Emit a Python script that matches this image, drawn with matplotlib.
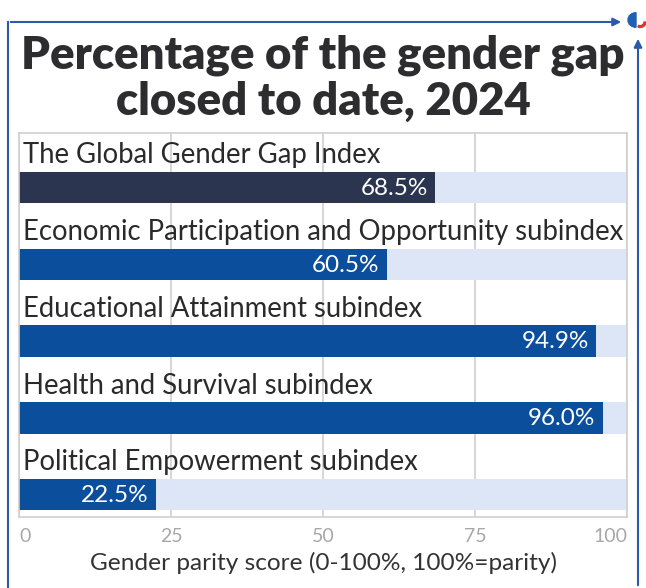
import matplotlib.pyplot as plt
from matplotlib.patches import FancyArrowPatch, Wedge

categories = [
    "The Global Gender Gap Index",
    "Economic Participation and Opportunity subindex",
    "Educational Attainment subindex",
    "Health and Survival subindex",
    "Political Empowerment subindex",
]
scores = [68.5, 60.5, 94.9, 96.0, 22.5]
value_labels = ["68.5%", "60.5%", "94.9%", "96.0%", "22.5%"]
bar_colors = ["#2c3550", "#0b4f9c", "#0b4f9c", "#0b4f9c", "#0b4f9c"]
x_ticks = [0, 25, 50, 75, 100]

FONT = "Lato"
frame_col = "#2b5ba8"

fig = plt.figure(figsize=(6.46, 5.88), dpi=100)
W, H = 646, 588

def fx(px):
    return px / W

def fy(py):
    return 1 - py / H

# title
for y, line in [(55, "Percentage of the gender gap"), (101, "closed to date, 2024")]:
    fig.text(0.5, fy(y), line, ha="center", va="center",
             fontsize=32.8, fontweight="heavy", family=FONT, color="#2d2d2f")

# outer frame lines with arrows
fig.add_artist(plt.Line2D([fx(8), fx(8)], [fy(22), 0], color=frame_col, lw=1.5))
fig.add_artist(FancyArrowPatch((fx(8), fy(22)), (fx(624), fy(22)), transform=fig.transFigure,
                               arrowstyle="-|>", mutation_scale=12, color=frame_col, lw=1.5))
fig.add_artist(FancyArrowPatch((fx(638), 0), (fx(638), fy(36)), transform=fig.transFigure,
                               arrowstyle="-|>", mutation_scale=12, color=frame_col, lw=1.5))
# small logo
fig.add_artist(Wedge((fx(636), fy(20)), fx(8), 90, 270, transform=fig.transFigure,
                     color="#1f5fb5"))
fig.add_artist(Wedge((fx(640), fy(22)), fx(6), 250, 360, width=fx(2), transform=fig.transFigure,
                     color="#d8372b"))

ax = fig.add_axes([fx(19), fy(517), fx(608), (517 - 133) / H])
n = len(categories)
ypos = [i + 0.71 for i in range(n)]
ax.barh(ypos, [100] * n, height=0.41, color="#dde6f6", zorder=1)
ax.barh(ypos, scores, height=0.41, color=bar_colors, zorder=2)
for i, (cat, val, lab) in enumerate(zip(categories, scores, value_labels)):
    ax.text(0.7, i + 0.29, cat, ha="left", va="center", fontsize=19.8,
            family=FONT, color="#2a2a2a", zorder=3)
    ax.text(val - 1.2, ypos[i] + 0.01, lab, ha="right", va="center", fontsize=17.5,
            family=FONT, color="white", zorder=3)

ax.set_xlim(0, 100)
ax.set_ylim(n, 0)
ax.set_yticks([])
ax.set_xticks(x_ticks)
ax.set_xticklabels([str(t) for t in x_ticks], family=FONT,
                   fontsize=14, color="#a8a8a8")
tl = ax.get_xticklabels()
tl[0].set_ha("left")
tl[-1].set_ha("right")
ax.tick_params(axis="x", length=0, pad=8)
ax.grid(axis="x", color="#cfcfcf", lw=1.2, zorder=0)
ax.set_axisbelow(True)
for s in ax.spines.values():
    s.set_color("#cfcfcf")
    s.set_linewidth(1.2)
ax.set_xlabel("Gender parity score (0-100%, 100%=parity)", family=FONT,
              fontsize=17.6, color="#333333", labelpad=5)

fig.savefig("out.png", dpi=100)
